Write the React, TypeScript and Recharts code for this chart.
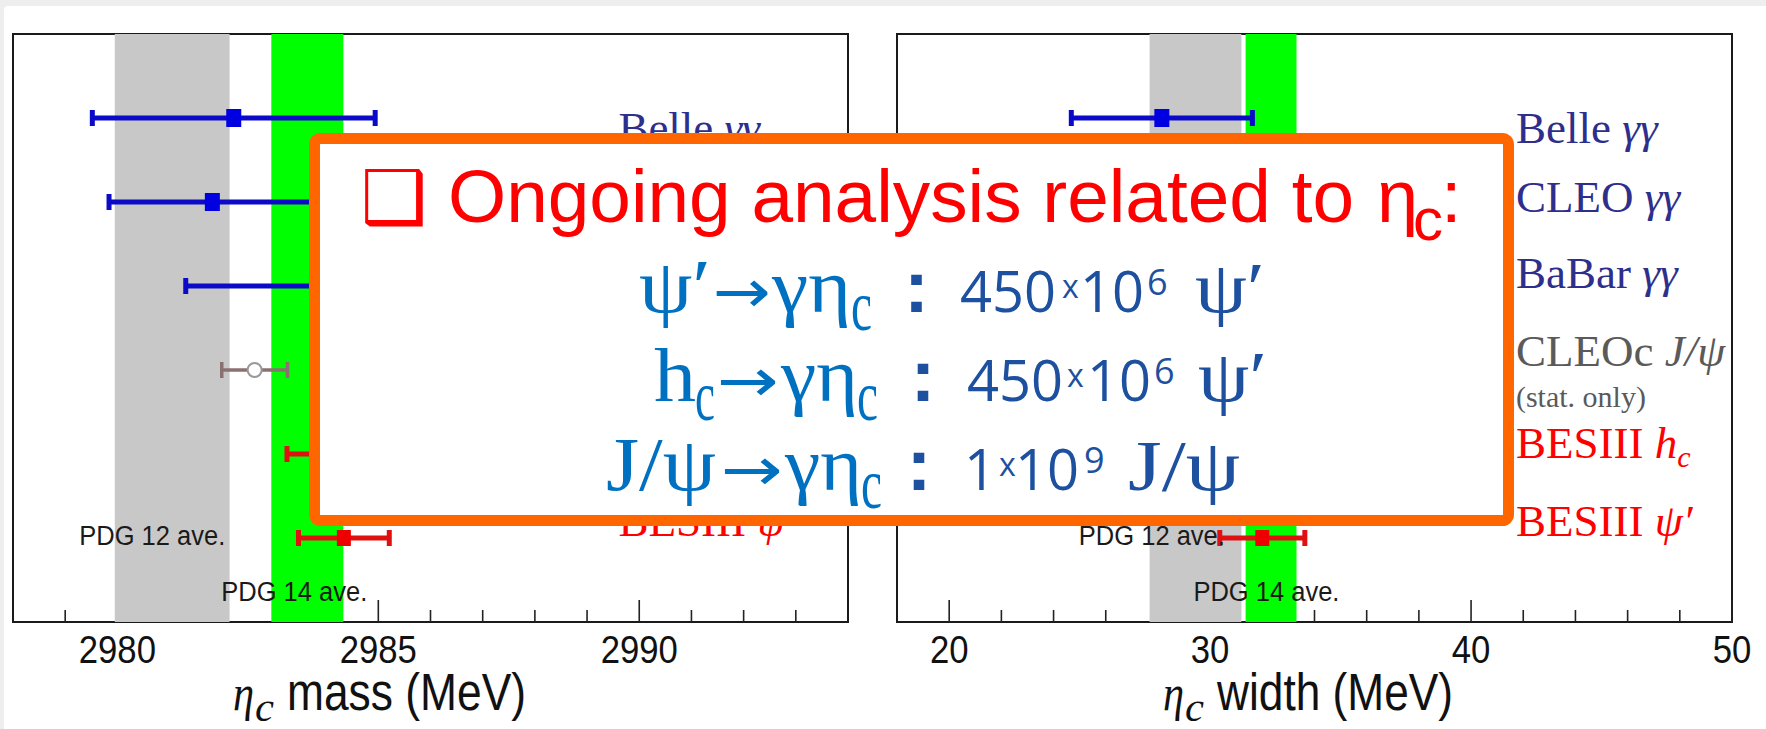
import React from 'react';
import { ScatterChart, Scatter, XAxis, YAxis, ErrorBar, ReferenceArea } from 'recharts';

// measurements, one row each, top to bottom
const experiments = ['Belle', 'CLEO', 'BaBar', 'CLEOc', 'BESIII', 'BESIII'];
const channels = ['γγ', 'γγ', 'γγ', 'J/ψ', 'h', 'ψ′'];
const channelSubs = ['', '', '', '', 'c', ''];
const groups = ['gg', 'gg', 'gg', 'cleoc', 'bes', 'bes'];
const rows = [1, 2, 3, 4, 5, 6];
const labelRows = [1.3, 2.12, 3.02, 3.95, 5.05, 5.98];
const noteText = '(stat. only)';
const noteRow = 4.44;

// eta_c mass and width (MeV) with total errors
const massValues = [2982.23, 2981.82, 2984.0, 2982.63, 2984.5, 2984.34];
const massErrors = [2.71, 1.98, 2.69, 0.63, 1.25, 0.87];
const widthValues = [28.15, 24.8, 32.1, 31.4, 36.4, 32.0];
const widthErrors = [3.47, 4.9, 1.7, 1.2, 3.6, 1.63];

// PDG average bands [low, high]
const massPdg12 = [2979.95, 2982.15];
const massPdg14 = [2982.95, 2984.33];
const widthPdg12 = [27.68, 31.2];
const widthPdg14 = [31.36, 33.31];

const averageLabels = ['PDG 12 ave.', 'PDG 14 ave.'];
const averageLabelRows = [6.08, 6.75];
const massAverageLabelX = [2979.27, 2981.99];
const widthAverageLabelX = [24.97, 29.36];

const massTicks = [2979, 2980, 2981, 2982, 2983, 2984, 2985, 2986, 2987, 2988, 2989, 2990, 2991, 2992, 2993];
const massMajorTicks = [2980, 2985, 2990];
const widthTicks = [20, 22, 24, 26, 28, 30, 32, 34, 36, 38, 40, 42, 44, 46, 48, 50];
const widthMajorTicks = [20, 30, 40, 50];

const SANS = '"Liberation Sans", Arial, sans-serif';
const SERIF = '"Liberation Serif", "Times New Roman", serif';
const OPEN = '"Open Sans", sans-serif';
const BLUE_LIGHT = '#0070c0';
const BLUE_DARK = '#1e50a0';

const groupStyle: Record<string, any> = {
  gg: { line: '#0a0ac8', marker: '#0000e0', text: '#2e2e8c', lineWidth: 5 },
  cleoc: { line: '#8a7070', marker: '#ffffff', text: '#5a5a5a', lineWidth: 3.5 },
  bes: { line: '#e01010', marker: '#ee0000', text: '#ff0000', lineWidth: 5 },
};
const groupOrder = ['gg', 'cleoc', 'bes'];
const bandColors = ['#c8c8c8', '#00ff00'];

const Marker = (props: any) => {
  const { cx, cy, payload } = props;
  const g = payload.group;
  if (g === 'cleoc') {
    return <circle cx={cx} cy={cy} r={7} fill="#fff" stroke="#999" strokeWidth={2} />;
  }
  const w = g === 'gg' ? 15 : 14;
  const h = g === 'gg' ? 18 : 16;
  return <rect x={cx - w / 2} y={cy - h / 2} width={w} height={h} fill={groupStyle[g].marker} />;
};

const RowLabel = (props: any) => {
  const { cx, cy, payload } = props;
  const i = payload.index;
  return (
    <text x={cx} y={cy} fontFamily={SERIF} fontSize={45} fill={groupStyle[groups[i]].text}>
      {experiments[i]}{' '}
      <tspan fontStyle="italic">{channels[i]}</tspan>
      {channelSubs[i] && <tspan fontStyle="italic" fontSize={30} dy={9}>{channelSubs[i]}</tspan>}
    </text>
  );
};

const NoteLabel = (props: any) => (
  <text x={props.cx} y={props.cy} fontFamily={SERIF} fontSize={30} fill="#5a5a5a">{props.payload.text}</text>
);

const AverageLabel = (props: any) => (
  <text x={props.cx} y={props.cy} fontFamily={SANS} fontSize={27} fill="#1a1a1a"
    textLength={146} lengthAdjust="spacingAndGlyphs">{props.payload.text}</text>
);

const AxisTick = (props: any) => {
  const { x, y, payload, majors, bands } = props;
  const v = payload.value;
  const major = majors.includes(v);
  // ticks under an average band are covered by it
  const covered = bands.some((b: number[]) => v > b[0] && v < b[1]);
  const label = String(v);
  return (
    <g>
      {!covered && (
        <line x1={x} x2={x} y1={y} y2={y - (major ? 22 : 12)} stroke="#222" strokeWidth={1.6} />
      )}
      {major && (
        <text x={x} y={y + 41} textAnchor="middle" fontFamily={SANS} fontSize={39} fill="#111"
          textLength={label.length * 19.3} lengthAdjust="spacingAndGlyphs">{label}</text>
      )}
    </g>
  );
};

const AxisTitle = ({ viewBox, text, offset, len }: any) => {
  const x0 = viewBox.x + offset;
  const y0 = viewBox.y;
  return (
    <g>
      <text x={x0} y={y0 + 88} fontFamily={SERIF} fontStyle="italic" fontSize={50} fill="#111"
        textLength={21} lengthAdjust="spacingAndGlyphs">η</text>
      <text x={x0 + 22} y={y0 + 99} fontFamily={SERIF} fontStyle="italic" fontSize={42} fill="#111"
        textLength={19} lengthAdjust="spacingAndGlyphs">c</text>
      <text x={x0 + 54} y={y0 + 88} fontFamily={SANS} fontSize={51} fill="#111"
        textLength={len} lengthAdjust="spacingAndGlyphs">{text}</text>
    </g>
  );
};

const Panel = ({ values, errors, domain, ticks, majors, bands, labelX, averageX, title, titleOffset, titleLen, width, margin }: any) => {
  const points = values.map((v: number, i: number) => ({ x: v, y: rows[i], err: errors[i], group: groups[i] }));
  const labels = experiments.map((_, i) => ({ x: labelX, y: labelRows[i], index: i }));
  const notes = [{ x: labelX, y: noteRow, text: noteText }];
  const averages = averageLabels.map((t, i) => ({ x: averageX[i], y: averageLabelRows[i], text: t }));

  return (
    <ScatterChart width={width} height={729} margin={margin}>
      <XAxis type="number" dataKey="x" domain={domain} ticks={ticks} interval={0} allowDataOverflow
        height={1} axisLine={false} tickLine={false} tickSize={0} tickMargin={0}
        tick={(p: any) => <AxisTick {...p} majors={majors} bands={bands} />}
        label={{ content: (p: any) => <AxisTitle viewBox={p.viewBox} text={title} offset={titleOffset} len={titleLen} /> }} />
      <YAxis type="number" dataKey="y" domain={[0, 7]} reversed hide allowDataOverflow />
      <ReferenceArea x1={domain[0]} x2={domain[1]} y1={0} y2={7} fill="none" stroke="#1a1a1a" strokeWidth={2} />
      {bands.map((b: number[], i: number) => (
        <ReferenceArea key={i} x1={b[0]} x2={b[1]} y1={0} y2={7} fill={bandColors[i]} fillOpacity={1} stroke="none" />
      ))}
      {groupOrder.map((g) => (
        <Scatter key={g} data={points.filter((p: any) => p.group === g)} shape={Marker} isAnimationActive={false}>
          <ErrorBar dataKey="err" direction="x" width={8} stroke={groupStyle[g].line} strokeWidth={groupStyle[g].lineWidth} />
        </Scatter>
      ))}
      <Scatter data={labels} shape={RowLabel} isAnimationActive={false} />
      <Scatter data={notes} shape={NoteLabel} isAnimationActive={false} />
      <Scatter data={averages} shape={AverageLabel} isAnimationActive={false} />
    </ScatterChart>
  );
};

const T = ({ x, y, size, family, color, len, italic, weight, children }: any) => (
  <text x={x} y={y} fontSize={size} fontFamily={family} fill={color} fontStyle={italic ? 'italic' : undefined}
    fontWeight={weight} textLength={len} lengthAdjust={len ? 'spacingAndGlyphs' : undefined}>{children}</text>
);

const Colon = ({ x, y }: any) => <T x={x} y={y} size={75} family={SANS} weight="bold" color={BLUE_DARK}>:</T>;
const Arrow = ({ x, y, len }: any) => (
  <T x={x} y={y} size={60} family='"DejaVu Sans", sans-serif' color={BLUE_LIGHT} len={len}>→</T>
);

export default function App() {
  return (
    <div style={{ position: 'absolute', left: 0, top: 0, width: 1766, height: 729, background: '#eeeeee', overflow: 'hidden' }}>
      <div style={{ position: 'absolute', left: 4, top: 6, right: 0, bottom: 0, background: '#fff', borderTopLeftRadius: 4 }} />
      <div style={{ position: 'absolute', left: 0, top: 0 }}>
        <Panel values={massValues} errors={massErrors} domain={[2978, 2994]} ticks={massTicks} majors={massMajorTicks}
          bands={[massPdg12, massPdg14]} labelX={2989.6} averageX={massAverageLabelX}
          title="mass (MeV)" titleOffset={220} titleLen={239}
          width={870} margin={{ top: 34, right: 22, bottom: 106, left: 13 }} />
      </div>
      <div style={{ position: 'absolute', left: 870, top: 0 }}>
        <Panel values={widthValues} errors={widthErrors} domain={[18, 50]} ticks={widthTicks} majors={widthMajorTicks}
          bands={[widthPdg12, widthPdg14]} labelX={41.72} averageX={widthAverageLabelX}
          title="width (MeV)" titleOffset={266} titleLen={236}
          width={896} margin={{ top: 34, right: 34, bottom: 106, left: 27 }} />
      </div>
      <svg width={1766} height={729} style={{ position: 'absolute', left: 0, top: 0 }}>
        <rect x={314.5} y={138.5} width={1194} height={382} rx={6} fill="#fff" stroke="#ff6600" strokeWidth={11} />
        <T x={361} y={223} size={74} family='"DejaVu Sans", sans-serif' color="#ff0000">❑</T>
        <T x={448} y={222} size={74} family={SANS} color="#ff0000" len={906}>Ongoing analysis related to</T>
        <T x={1377} y={222} size={74} family={SANS} color="#ff0000">η</T>
        <T x={1413} y={240} size={60} family={SANS} color="#ff0000">c</T>
        <T x={1441} y={222} size={74} family={SANS} color="#ff0000">:</T>

        <T x={639} y={312} size={76} family={SERIF} color={BLUE_LIGHT} len={72}>ψ′</T>
        <Arrow x={713} y={312} len={58} />
        <T x={772} y={312} size={76} family={SERIF} color={BLUE_LIGHT} len={79}>γη</T>
        <T x={851} y={330} size={72} family={SERIF} color={BLUE_LIGHT} len={21}>c</T>
        <Colon x={904} y={312} />
        <T x={960} y={312} size={56} family={OPEN} color={BLUE_DARK}>450</T>
        <T x={1062} y={298} size={32} family={OPEN} color={BLUE_DARK}>x</T>
        <T x={1080} y={312} size={56} family={OPEN} color={BLUE_DARK}>10</T>
        <T x={1147} y={295} size={36} family={OPEN} color={BLUE_DARK}>6</T>
        <T x={1195} y={312} size={72} family={SERIF} color={BLUE_DARK} len={70}>ψ′</T>

        <T x={654} y={401} size={76} family={SERIF} color={BLUE_LIGHT} len={42}>h</T>
        <T x={695} y={420} size={72} family={SERIF} color={BLUE_LIGHT} len={20}>c</T>
        <Arrow x={717} y={401} len={62} />
        <T x={781} y={401} size={76} family={SERIF} color={BLUE_LIGHT} len={77}>γη</T>
        <T x={857} y={420} size={72} family={SERIF} color={BLUE_LIGHT} len={21}>c</T>
        <Colon x={910.5} y={401} />
        <T x={967} y={401} size={56} family={OPEN} color={BLUE_DARK}>450</T>
        <T x={1067} y={387} size={32} family={OPEN} color={BLUE_DARK}>x</T>
        <T x={1087} y={401} size={56} family={OPEN} color={BLUE_DARK}>10</T>
        <T x={1154} y={384} size={36} family={OPEN} color={BLUE_DARK}>6</T>
        <T x={1198} y={401} size={72} family={SERIF} color={BLUE_DARK} len={69}>ψ′</T>

        <T x={606} y={490} size={76} family={SERIF} color={BLUE_LIGHT} len={110}>J/ψ</T>
        <Arrow x={721} y={490} len={62} />
        <T x={785} y={490} size={76} family={SERIF} color={BLUE_LIGHT} len={77}>γη</T>
        <T x={861} y={508} size={72} family={SERIF} color={BLUE_LIGHT} len={21}>c</T>
        <Colon x={906.5} y={490} />
        <T x={964} y={490} size={56} family={OPEN} color={BLUE_DARK}>1</T>
        <T x={999} y={476} size={32} family={OPEN} color={BLUE_DARK}>x</T>
        <T x={1015} y={490} size={56} family={OPEN} color={BLUE_DARK}>10</T>
        <T x={1084} y={473} size={36} family={OPEN} color={BLUE_DARK}>9</T>
        <T x={1128} y={490} size={72} family={SERIF} color={BLUE_DARK} len={112}>J/ψ</T>
      </svg>
    </div>
  );
}
